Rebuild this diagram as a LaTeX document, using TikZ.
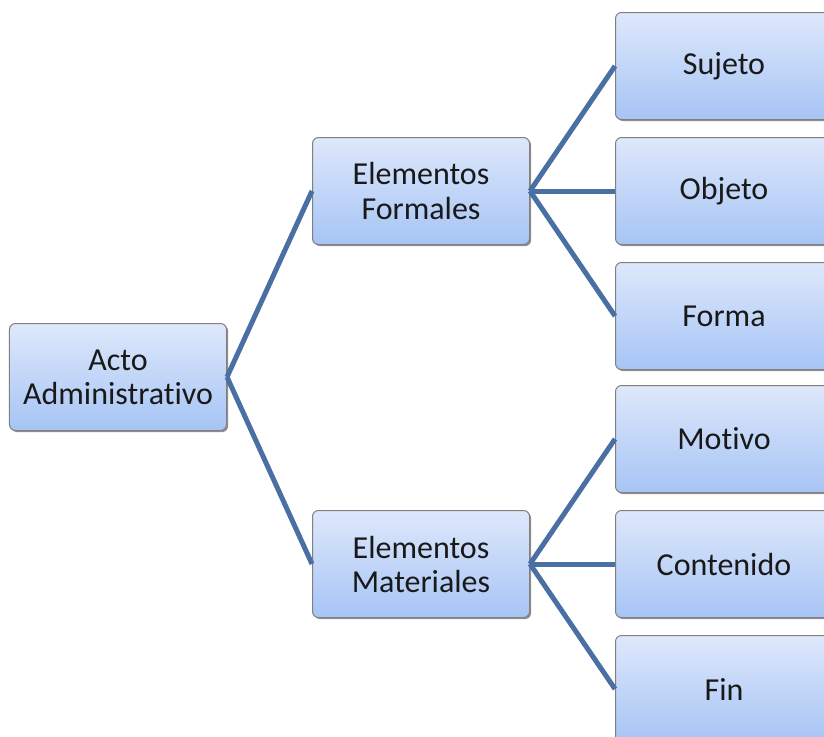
\documentclass[tikz,border=0pt]{standalone}
\usepackage{fontspec}
\setmainfont{Carlito}[Ligatures=NoCommon]
\usetikzlibrary{positioning,shadows}

\definecolor{boxtop}{RGB}{222,232,251}
\definecolor{boxbottom}{RGB}{166,196,245}
\definecolor{boxline}{RGB}{128,128,128}
\definecolor{branch}{RGB}{74,112,163}

\tikzset{
  elem/.style={rectangle, rounded corners=3pt, draw=boxline, line width=0.5pt,
    top color=boxtop, bottom color=boxbottom,
    minimum width=108.5pt, minimum height=53.5pt, align=center,
    font=\fontsize{16}{17}\selectfont, text=black!90,
    drop shadow={shadow xshift=0.8pt, shadow yshift=-0.8pt, fill=black!55, opacity=0.8}},
  rama/.style={draw=branch, line width=2.5pt},
}

\begin{document}
\begin{tikzpicture}
        \clip (-59pt,188.5pt) rectangle (353pt,-179.5pt);

          \node [elem] (acto) {Acto\\Administrativo};
          \node [elem, right=42.5pt of acto, yshift=93pt] (formales) {Elementos\\Formales};
          \node [elem, right=42.5pt of acto, yshift=-93.5pt] (materiales) {Elementos\\Materiales};

          \node [elem, right=42.5pt of formales] (objeto) {Objeto};
          \node [elem, above=8.5pt of objeto] (sujeto) {Sujeto};
          \node [elem, below=8.5pt of objeto] (forma) {Forma};

          \node [elem, right=42.5pt of materiales] (contenido) {Contenido};
          \node [elem, above=8.5pt of contenido] (motivo) {Motivo};
          \node [elem, below=8.5pt of contenido] (fin) {Fin};

          \draw [rama] (acto.east) -- (formales.west);
          \draw [rama] (acto.east) -- (materiales.west);
          \draw [rama] (formales.east) -- (sujeto.west);
          \draw [rama] (formales.east) -- (objeto.west);
          \draw [rama] (formales.east) -- (forma.west);
          \draw [rama] (materiales.east) -- (motivo.west);
          \draw [rama] (materiales.east) -- (contenido.west);
          \draw [rama] (materiales.east) -- (fin.west);
      \end{tikzpicture}
\end{document}
